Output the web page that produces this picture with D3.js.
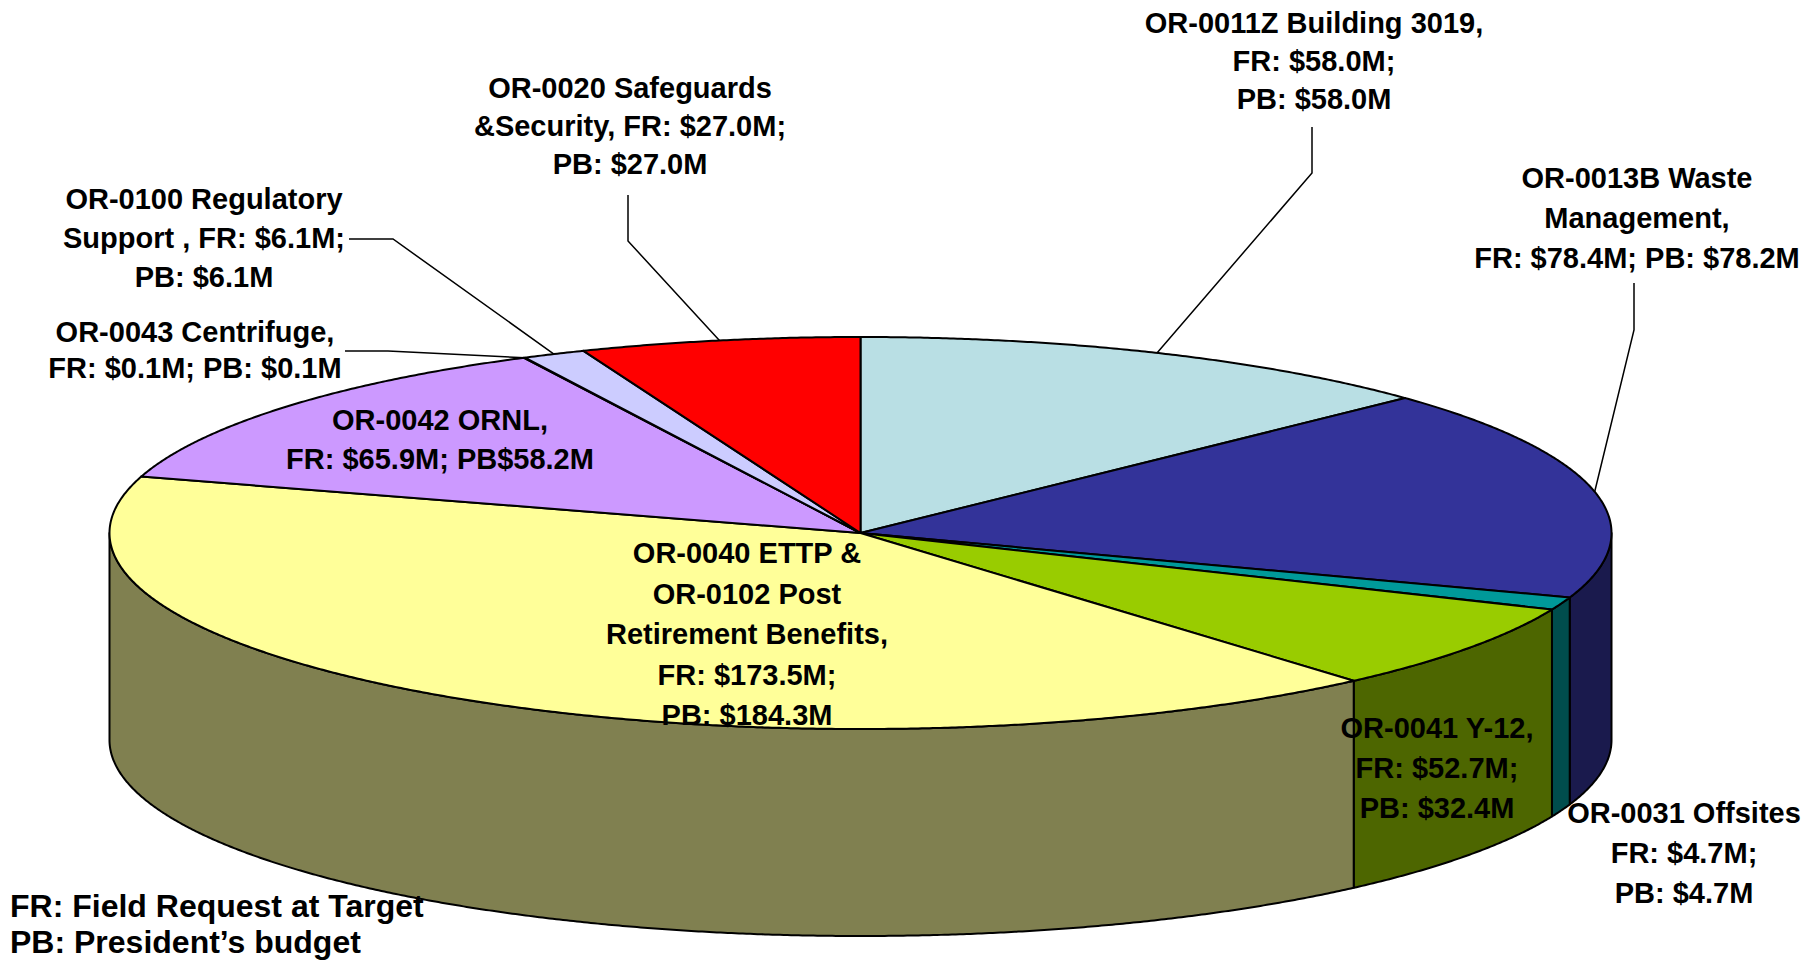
<!DOCTYPE html>
<html>
<head>
<meta charset="utf-8">
<script src="https://cdn.jsdelivr.net/npm/d3@7"></script>
<style>
  body { margin: 0; background: #fff; }
  svg { display: block; }
  text { font-family: "Liberation Sans", Arial, sans-serif; font-weight: bold; fill: #000; }
</style>
</head>
<body>
<script>
// slices, clockwise from 12 o'clock (pie is sized by the PB values)
var categories = ["OR-0011Z Building 3019", "OR-0013B Waste Management", "OR-0031 Offsites",
  "OR-0041 Y-12", "OR-0040 ETTP & OR-0102 Post Retirement Benefits", "OR-0042 ORNL",
  "OR-0043 Centrifuge", "OR-0100 Regulatory Support", "OR-0020 Safeguards &Security"];
var frValues = [58.0, 78.4, 4.7, 52.7, 173.5, 65.9, 0.1, 6.1, 27.0];
var pbValues = [58.0, 78.2, 4.7, 32.4, 184.3, 58.2, 0.1, 6.1, 27.0];

// label text as it is broken in the picture
var labelLines = [
  ["OR-0011Z Building 3019,", "FR: $58.0M;", "PB: $58.0M"],
  ["OR-0013B Waste", "Management,", "FR: $78.4M; PB: $78.2M"],
  ["OR-0031 Offsites", "FR: $4.7M;", "PB: $4.7M"],
  ["OR-0041 Y-12,", "FR: $52.7M;", "PB: $32.4M"],
  ["OR-0040 ETTP &", "OR-0102 Post", "Retirement Benefits,", "FR: $173.5M;", "PB: $184.3M"],
  ["OR-0042 ORNL,", "FR: $65.9M; PB$58.2M"],
  ["OR-0043 Centrifuge,", "FR: $0.1M; PB: $0.1M"],
  ["OR-0100 Regulatory", "Support , FR: $6.1M;", "PB: $6.1M"],
  ["OR-0020 Safeguards", "&Security, FR: $27.0M;", "PB: $27.0M"]
];
var legendLines = ["FR: Field Request at Target", "PB: President\u2019s budget"];

var topColors  = ["#B9DFE4", "#333399", "#009999", "#99CC00", "#FFFF99", "#CC99FF", "#993366", "#CCCCFF", "#FF0000"];
var sideColors = ["#5C7072", "#1A1A4D", "#004D4D", "#4D6600", "#808050", "#664D80", "#4D1A33", "#666680", "#800000"];

// layout of the labels: centre x, first baseline, line step
var labelPos = [
  {x: 1314, y: 33,  dy: 38},
  {x: 1637, y: 188, dy: 40},
  {x: 1684, y: 823, dy: 40},
  {x: 1437, y: 738, dy: 40},
  {x: 747,  y: 563, dy: 40.5},
  {x: 440,  y: 430, dy: 39},
  {x: 195,  y: 342, dy: 36},
  {x: 204,  y: 209, dy: 39},
  {x: 630,  y: 98,  dy: 38}
];
// leader lines: bend points, last point goes to the rim at the slice middle
var leaders = {
  0: [[1312, 127], [1312, 173]],
  1: [[1634, 283], [1634, 330]],
  6: [[345, 351], [388, 351]],
  7: [[349, 239], [393, 239]],
  8: [[628, 195], [628, 241]]
};

var W = 1809, H = 961;
var cx = 860.5, cy = 533, rx = 751, ry = 196, depth = 207;

var svg = d3.select("body").append("svg")
  .attr("width", W)
  .attr("height", H);

var xScale = d3.scaleLinear().domain([-1, 1]).range([cx - rx, cx + rx]);
var yScale = d3.scaleLinear().domain([-1, 1]).range([cy - ry, cy + ry]);

function pt(a, dz) {
  return [xScale(Math.sin(a)), yScale(-Math.cos(a)) + dz];
}
function arcPts(a0, a1, dz) {
  var n = Math.max(2, Math.ceil(Math.abs(a1 - a0) / 0.005));
  return d3.range(n + 1).map(function(i) { return pt(a0 + (a1 - a0) * i / n, dz); });
}

var pie = d3.pie().sort(null).value(function(d, i) { return pbValues[i]; });
var arcs = pie(categories);
var line = d3.line();

// side walls (front half only)
arcs.forEach(function(d, i) {
  var s0 = Math.max(d.startAngle, Math.PI / 2),
      s1 = Math.min(d.endAngle, 3 * Math.PI / 2);
  if (s1 <= s0) return;
  var pts = arcPts(s0, s1, 0).concat(arcPts(s1, s0, depth));
  svg.append("path")
    .attr("d", line(pts) + "Z")
    .attr("fill", sideColors[i])
    .attr("stroke", "#000")
    .attr("stroke-width", 2)
    .attr("stroke-linejoin", "round");
});

// top faces
svg.selectAll(".top")
  .data(arcs)
  .enter()
  .append("path")
  .attr("class", "top")
  .attr("d", function(d) { return line([[cx, cy]].concat(arcPts(d.startAngle, d.endAngle, 0))) + "Z"; })
  .attr("fill", function(d, i) { return topColors[i]; })
  .attr("stroke", "#000")
  .attr("stroke-width", 2)
  .attr("stroke-linejoin", "round");

// leader lines
Object.keys(leaders).forEach(function(k) {
  var d = arcs[k];
  var mid = (d.startAngle + d.endAngle) / 2;
  var pts = leaders[k].concat([pt(mid, 0)]);
  svg.append("path")
    .attr("d", line(pts))
    .attr("fill", "none")
    .attr("stroke", "#000")
    .attr("stroke-width", 1.5);
});

// data labels
labelLines.forEach(function(lines, i) {
  var p = labelPos[i];
  var t = svg.append("text")
    .attr("text-anchor", "middle")
    .style("font-size", "29px");
  lines.forEach(function(s, j) {
    t.append("tspan")
      .attr("x", p.x)
      .attr("y", p.y + j * p.dy)
      .text(s);
  });
});

// FR / PB note
svg.selectAll(".legend")
  .data(legendLines)
  .enter()
  .append("text")
  .attr("class", "legend")
  .attr("x", 10)
  .attr("y", function(d, i) { return 917 + i * 36; })
  .style("font-size", "32px")
  .text(function(d) { return d; });
</script>
</body>
</html>
